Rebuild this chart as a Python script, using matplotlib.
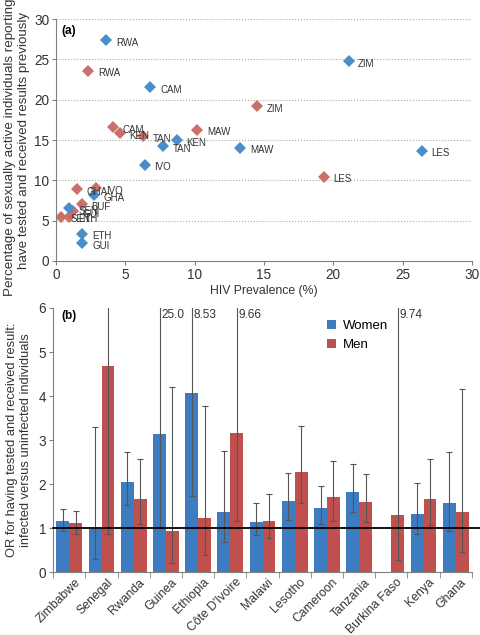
import matplotlib.pyplot as plt
import numpy as np

plt.rcParams['font.family'] = ['Liberation Sans', 'DejaVu Sans']

# (a) scatter: HIV prevalence vs % tested
women_lab = ['RWA', 'CAM', 'ZIM', 'TAN', 'KEN', 'MAW', 'LES', 'IVO', 'GHA', 'SEN', 'ETH', 'GUI']
women_x = [3.6, 6.8, 21.1, 7.7, 8.7, 13.3, 26.4, 6.4, 2.7, 0.95, 1.9, 1.9]
women_y = [27.4, 21.6, 24.8, 14.2, 15.0, 14.05, 13.7, 11.95, 8.2, 6.55, 3.4, 2.25]

men_lab = ['RWA', 'CAM', 'KEN', 'TAN', 'MAW', 'ZIM', 'LES', 'GHA', 'IVO', 'BUF', 'GUI', 'SEN', 'ETH']
men_x = [2.3, 4.1, 4.6, 6.3, 10.2, 14.5, 19.3, 1.5, 2.9, 1.85, 1.2, 0.35, 0.9]
men_y = [23.6, 16.6, 15.9, 15.5, 16.3, 19.2, 10.45, 8.9, 9.0, 7.05, 6.2, 5.5, 5.5]

# (b) odds ratios with 95% CI
countries = ['Zimbabwe', 'Senegal', 'Rwanda', 'Guinea', 'Ethiopia', "Côte D'Ivoire", 'Malawi',
             'Lesotho', 'Cameroon', 'Tanzania', 'Burkina Faso', 'Kenya', 'Ghana']
or_w = [1.16, 0.99, 2.04, 3.14, 4.07, 1.37, 1.15, 1.62, 1.46, 1.82, np.nan, 1.31, 1.58]
lo_w = [0.94, 0.30, 1.53, 1.02, 1.72, 0.68, 0.84, 1.18, 1.10, 1.37, np.nan, 0.87, 0.93]
hi_w = [1.43, 3.30, 2.73, 25.0, 8.53, 2.75, 1.58, 2.25, 1.95, 2.45, np.nan, 2.03, 2.73]
or_m = [1.11, 4.69, 1.67, 0.93, 1.23, 3.16, 1.17, 2.28, 1.71, 1.59, 1.29, 1.65, 1.37]
lo_m = [0.87, 0.87, 1.10, 0.21, 0.40, 1.17, 0.77, 1.57, 1.16, 1.15, 0.27, 1.06, 0.46]
hi_m = [1.39, 6.5, 2.56, 4.20, 3.77, 9.66, 1.78, 3.32, 2.52, 2.23, 9.74, 2.58, 4.16]

blue = '#3d7cc0'
red = '#c0504d'
grey = '#808080'
txt = '#333333'

fig = plt.figure(figsize=(4.8, 6.35), dpi=100)
ax1 = fig.add_axes([0.117, 0.589, 0.866, 0.381])
ax2 = fig.add_axes([0.111, 0.099, 0.872, 0.416])

# ---- panel (a)
ax1.plot(men_x, men_y, 'D', color='#c9706b', markersize=6, markeredgewidth=0)
ax1.plot(women_x, women_y, 'D', color='#4a8dc8', markersize=6.5, markeredgewidth=0)
for lab, x, y in zip(men_lab, men_x, men_y):
    ax1.annotate(lab, (x, y), xytext=(7, -2), textcoords='offset points',
                 va='center', fontsize=7, color=txt)
for lab, x, y in zip(women_lab, women_x, women_y):
    ax1.annotate(lab, (x, y), xytext=(7, -2), textcoords='offset points',
                 va='center', fontsize=7, color=txt)

ax1.set_xlim(0, 30)
ax1.set_ylim(0, 30)
ax1.set_xticks(range(0, 31, 5))
ax1.set_yticks(range(0, 31, 5))
ax1.grid(axis='y', linestyle=':', color='#aaaaaa', linewidth=0.8)
ax1.set_axisbelow(True)
ax1.set_xlabel('HIV Prevalence (%)', fontsize=8.8, color=txt, labelpad=2)
ax1.set_ylabel('Percentage of sexually active individuals reporting to\n'
               'have tested and received results previously', fontsize=9.6, color=txt, labelpad=3)
ax1.text(0.012, 0.95, '(a)', transform=ax1.transAxes, fontsize=8.5, fontweight='bold', va='center')

# ---- panel (b)
pos = np.arange(len(countries))
w = 0.4
ow = np.array(or_w)
om = np.array(or_m)
ax2.bar(pos - w / 2, ow, w, color=blue, zorder=2)
ax2.bar(pos + w / 2, om, w, color=red, zorder=2)
ax2.errorbar(pos - w / 2, ow, yerr=[ow - np.array(lo_w), np.array(hi_w) - ow], fmt='none',
             ecolor='#555555', elinewidth=0.8, capsize=2, capthick=0.8, zorder=3)
ax2.errorbar(pos + w / 2, om, yerr=[om - np.array(lo_m), np.array(hi_m) - om], fmt='none',
             ecolor='#555555', elinewidth=0.8, capsize=2, capthick=0.8, zorder=3)

# labels for CIs beyond the axis
for i, (hw, hm) in enumerate(zip(hi_w, hi_m)):
    if hw > 6:
        ax2.text(i - w / 2 + 0.06, 5.84, f'{hw:.2f}' if hw < 10 else f'{hw:.1f}',
                 fontsize=8.5, color=txt, va='center')
    if hm > 7:
        ax2.text(i + w / 2 + 0.06, 5.84, f'{hm:.2f}', fontsize=8.5, color=txt, va='center')

ax2.axhline(1, xmin=0, xmax=1.03, color='black', linewidth=1.3, clip_on=False, zorder=4)

ax2.set_xlim(-0.5, len(countries) - 0.5)
ax2.set_ylim(0, 6)
ax2.set_yticks(range(0, 7))
ax2.set_xticks(pos + 0.15)
ax2.set_xticklabels(countries, rotation=45, ha='right', rotation_mode='anchor', fontsize=8.8, color=txt)
ax2.set_xticks(np.arange(-0.5, len(countries)), minor=True)
ax2.tick_params(axis='x', which='major', length=0, pad=3)
ax2.tick_params(axis='x', which='minor', length=4, color=grey)
ax2.set_ylabel('OR for having tested and received result:\n'
               'infected versus uninfected individuals', fontsize=9.3, color=txt, labelpad=5)
ax2.text(0.02, 0.97, '(b)', transform=ax2.transAxes, fontsize=8.5, fontweight='bold', va='center')

ax2.bar([0], [0], color=blue, label='Women')
ax2.bar([0], [0], color=red, label='Men')
ax2.legend(loc='upper left', bbox_to_anchor=(0.625, 1.0), frameon=False, fontsize=9.5,
           handlelength=0.7, handleheight=0.7, handletextpad=0.5, labelspacing=0.5)

for ax in (ax1, ax2):
    for s in ('top', 'right'):
        ax.spines[s].set_visible(False)
    for s in ('left', 'bottom'):
        ax.spines[s].set_color(grey)
    ax.tick_params(axis='y', labelsize=9.8, colors=txt, length=3, color=grey, pad=2)
ax1.tick_params(axis='x', labelsize=9.8, colors=txt, length=3, color=grey, pad=2)

fig.savefig('out.png', dpi=100)
